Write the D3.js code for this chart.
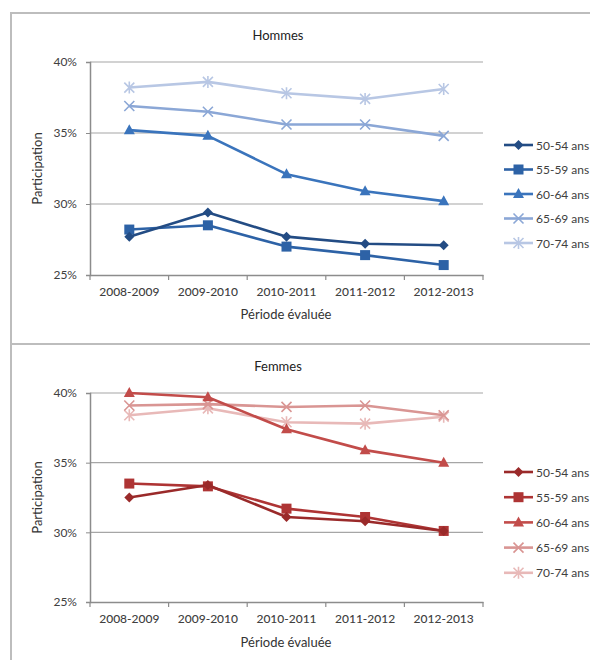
<!DOCTYPE html>
<html>
<head>
<meta charset="utf-8">
<script src="https://cdn.jsdelivr.net/npm/d3@7/dist/d3.min.js"></script>
<style>
  html, body { margin: 0; padding: 0; background: #fff; }
  svg { display: block; font-family: Lato, "Open Sans", sans-serif; }
</style>
</head>
<body>
<svg id="chart" width="590" height="660"></svg>
<script>
// Periods on the x axis
const periods = ["2008-2009", "2009-2010", "2010-2011", "2011-2012", "2012-2013"];
const ageGroups = ["50-54 ans", "55-59 ans", "60-64 ans", "65-69 ans", "70-74 ans"];
const yTicks = [0.25, 0.30, 0.35, 0.40];

// Participation rates, men
const hommes5054 = [0.277, 0.294, 0.277, 0.272, 0.271];
const hommes5559 = [0.282, 0.285, 0.270, 0.264, 0.257];
const hommes6064 = [0.352, 0.348, 0.321, 0.309, 0.302];
const hommes6569 = [0.369, 0.365, 0.356, 0.356, 0.348];
const hommes7074 = [0.382, 0.386, 0.378, 0.374, 0.381];

// Participation rates, women
const femmes5054 = [0.325, 0.334, 0.311, 0.308, 0.301];
const femmes5559 = [0.335, 0.333, 0.317, 0.311, 0.301];
const femmes6064 = [0.400, 0.397, 0.374, 0.359, 0.350];
const femmes6569 = [0.391, 0.392, 0.390, 0.391, 0.384];
const femmes7074 = [0.384, 0.389, 0.379, 0.378, 0.383];

const markers = ["diamond", "square", "triangle", "cross", "star"];
const blues = ["#234c84", "#2d62a6", "#3a74bc", "#8ba7d6", "#b8c7e4"];
const reds = ["#9a2a2a", "#ae3434", "#c24c4a", "#d99593", "#e8b9b8"];

const svg = d3.select("#chart");

function drawMarker(g, type, cx, cy, color) {
  if (type === "diamond") {
    g.append("path")
      .attr("d", `M${cx},${cy-5}L${cx+5},${cy}L${cx},${cy+5}L${cx-5},${cy}Z`)
      .attr("fill", color);
  } else if (type === "square") {
    g.append("rect").attr("x", cx - 5).attr("y", cy - 5)
      .attr("width", 10).attr("height", 10).attr("fill", color);
  } else if (type === "triangle") {
    g.append("path")
      .attr("d", `M${cx},${cy-6}L${cx+5.5},${cy+4}L${cx-5.5},${cy+4}Z`)
      .attr("fill", color);
  } else if (type === "cross") {
    g.append("path")
      .attr("d", `M${cx-5},${cy-5}L${cx+5},${cy+5}M${cx-5},${cy+5}L${cx+5},${cy-5}`)
      .attr("stroke", color).attr("stroke-width", 1.6).attr("fill", "none");
  } else {
    g.append("path")
      .attr("d", `M${cx-5},${cy-5}L${cx+5},${cy+5}M${cx-5},${cy+5}L${cx+5},${cy-5}M${cx},${cy-6}L${cx},${cy+6}`)
      .attr("stroke", color).attr("stroke-width", 1.6).attr("fill", "none");
  }
}

function drawPanel(cfg) {
  const g = svg.append("g");

  // panel frame (top and left edges)
  g.append("path")
    .attr("d", `M590,${cfg.frameTop}L11,${cfg.frameTop}L11,${cfg.frameBottom}`)
    .attr("fill", "none").attr("stroke", "#bdbdbd").attr("stroke-width", 2);

  const x = d3.scaleBand().domain(periods).range([90, 483]);
  const y = d3.scaleLinear().domain([0.25, 0.40]).range([cfg.yBottom, cfg.yTop]);

  // horizontal gridlines
  g.selectAll(".grid").data(yTicks.filter(t => t > 0.25)).join("line")
    .attr("x1", 90).attr("x2", 483)
    .attr("y1", d => y(d)).attr("y2", d => y(d))
    .attr("stroke", "#a6a6a6").attr("stroke-width", 1.2);

  // y axis
  const yAxis = d3.axisLeft(y).tickValues(yTicks).tickFormat(d3.format(".0%"))
    .tickSize(4).tickPadding(9);
  const ya = g.append("g").attr("transform", "translate(90,0)").call(yAxis);
  ya.select(".domain").attr("stroke", "#8c8c8c").attr("stroke-width", 1.5);
  ya.selectAll(".tick line").attr("stroke", "#8c8c8c");
  ya.selectAll("text").attr("font-size", 12).attr("fill", "#404040")
    .attr("font-family", "Lato, sans-serif");

  // x axis with ticks between categories
  const xa = g.append("g").attr("transform", `translate(0,${cfg.yBottom})`)
    .call(d3.axisBottom(x).tickSize(0).tickPadding(12));
  xa.select(".domain").attr("stroke", "#8c8c8c").attr("stroke-width", 1.5);
  xa.selectAll("text").attr("font-size", 12).attr("fill", "#404040")
    .attr("font-family", "Lato, sans-serif").attr("font-weight", 500);
  const bounds = periods.map(p => x(p)).concat([x.range()[1]]);
  g.selectAll(".xt").data(bounds).join("line")
    .attr("x1", d => d).attr("x2", d => d)
    .attr("y1", cfg.yBottom).attr("y2", cfg.yBottom + 5)
    .attr("stroke", "#8c8c8c").attr("stroke-width", 1.2);

  // title and axis titles
  g.append("text").attr("x", 278).attr("y", cfg.titleY)
    .attr("text-anchor", "middle").attr("font-size", 13).attr("fill", "#222")
    .text(cfg.title);
  g.append("text").attr("x", 286).attr("y", cfg.xLabelY)
    .attr("text-anchor", "middle").attr("font-size", 13).attr("fill", "#333")
    .text("Période évaluée");
  g.append("text")
    .attr("transform", `translate(42,${(cfg.yTop + cfg.yBottom) / 2}) rotate(-90)`)
    .attr("text-anchor", "middle").attr("font-size", 13).attr("fill", "#333")
    .text("Participation");

  // series lines and markers, drawn lightest first
  const line = d3.line().x((d, i) => x(periods[i]) + x.bandwidth() / 2).y(d => y(d));
  const order = [4, 3, 2, 1, 0];
  order.forEach(k => {
    const vals = cfg.series[k];
    const sg = g.append("g");
    sg.append("path").datum(vals).attr("d", line)
      .attr("fill", "none").attr("stroke", cfg.colors[k]).attr("stroke-width", 2.6)
      .attr("stroke-linejoin", "round");
    vals.forEach((v, i) => drawMarker(sg, markers[k], x(periods[i]) + x.bandwidth() / 2, y(v), cfg.colors[k]));
  });

  // legend
  ageGroups.forEach((name, k) => {
    const ly = cfg.legendY + k * cfg.legendStep;
    const lg = g.append("g");
    lg.append("line").attr("x1", 504).attr("x2", 533).attr("y1", ly).attr("y2", ly)
      .attr("stroke", cfg.colors[k]).attr("stroke-width", 2.6);
    drawMarker(lg, markers[k], 518.5, ly, cfg.colors[k]);
    lg.append("text").attr("x", 536).attr("y", ly + 4.5)
      .attr("font-size", 12).attr("fill", "#404040").text(name);
  });
}

drawPanel({
  title: "Hommes", frameTop: 13, frameBottom: 343,
  yTop: 62, yBottom: 275, titleY: 40, xLabelY: 319,
  legendY: 145, legendStep: 24.5,
  colors: blues,
  series: [hommes5054, hommes5559, hommes6064, hommes6569, hommes7074]
});

drawPanel({
  title: "Femmes", frameTop: 344, frameBottom: 660,
  yTop: 393, yBottom: 602, titleY: 371, xLabelY: 647,
  legendY: 472, legendStep: 25.2,
  colors: reds,
  series: [femmes5054, femmes5559, femmes6064, femmes6569, femmes7074]
});
</script>
</body>
</html>
